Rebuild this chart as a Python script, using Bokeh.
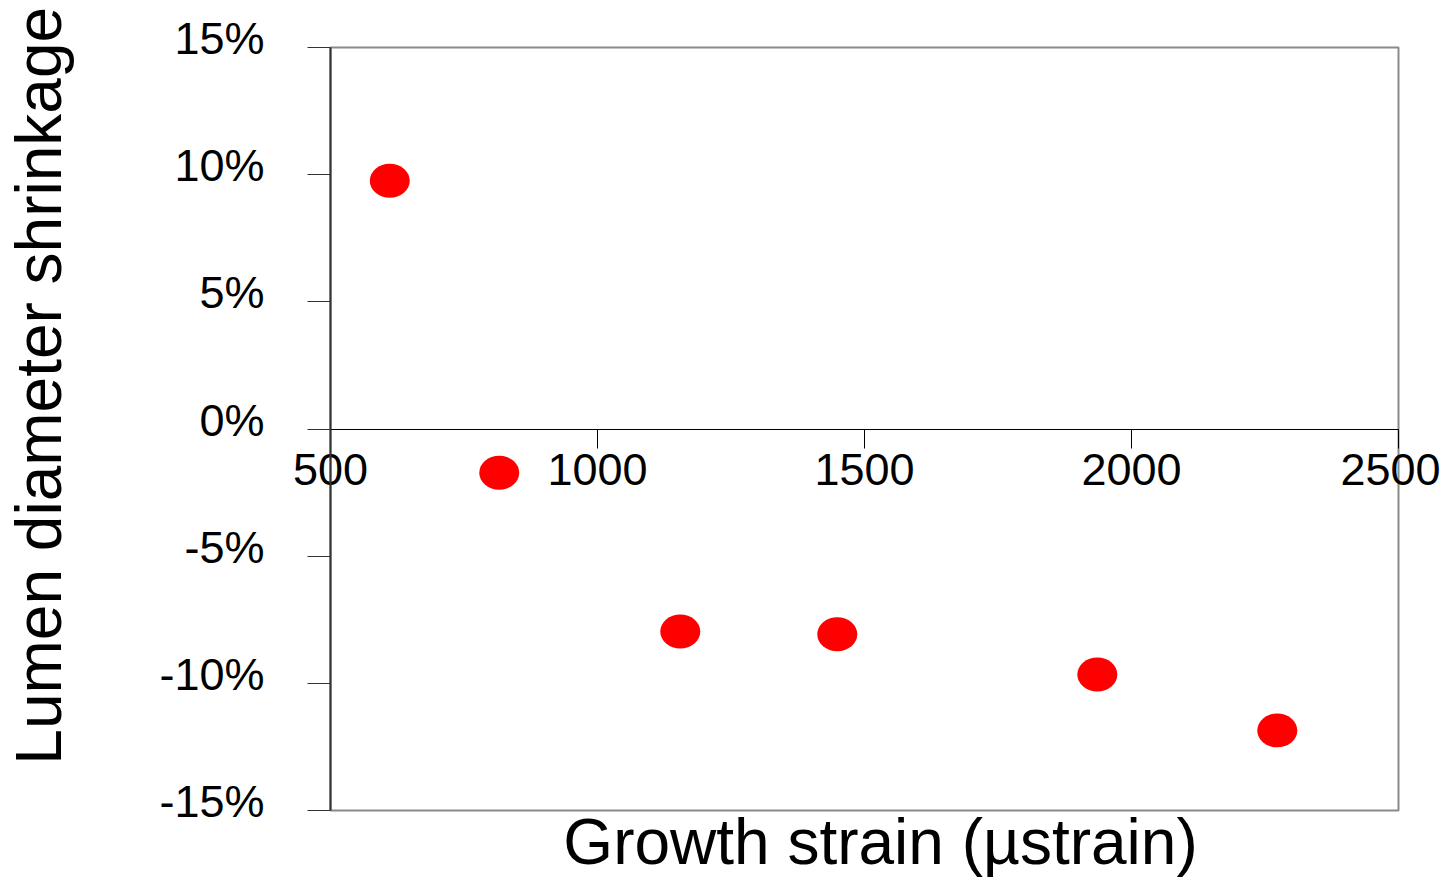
import math
from bokeh.plotting import figure
from bokeh.models import (ColumnDataSource, FixedTicker, NumeralTickFormatter,
                          Range1d, Label, LinearAxis, BoxAnnotation)
from bokeh.embed import file_html
from bokeh.resources import INLINE

# ---- data ----
growth_strain = [611, 816, 1155, 1449, 1936, 2273]
shrinkage = [0.0976, -0.0172, -0.0796, -0.0807, -0.0965, -0.1185]
x_ticks = [500, 1000, 1500, 2000, 2500]
y_ticks = [-0.15, -0.10, -0.05, 0.0, 0.05, 0.10, 0.15]
x_title = "Growth strain (µstrain)"
y_title = "Lumen diameter shrinkage"

FONT = "Liberation Sans"
W, H = 1440, 878
# plot box in canvas pixels
BOX_L, BOX_R, BOX_T, BOX_B = 330, 1398, 47, 810
XMIN, XMAX = x_ticks[0], x_ticks[-1]
YMIN, YMAX = y_ticks[0], y_ticks[-1]
sx = (BOX_R - BOX_L) / (XMAX - XMIN)
sy = (BOX_B - BOX_T) / (YMAX - YMIN)
x0 = XMIN - BOX_L / sx
x1 = x0 + W / sx
y1 = YMAX + BOX_T / sy
y0 = y1 - H / sy

p = figure(width=W, height=H, output_backend="svg", toolbar_location=None,
           x_range=Range1d(x0, x1), y_range=Range1d(y0, y1),
           min_border=0, min_border_left=0, min_border_right=0,
           min_border_top=0, min_border_bottom=0)
p.grid.visible = False
p.background_fill_color = "white"
p.border_fill_color = "white"
p.outline_line_color = None

# plot box
p.add_layout(BoxAnnotation(left=XMIN, right=XMAX, bottom=YMIN, top=YMAX,
                           fill_alpha=0, line_color="#8a8a8a", line_alpha=1,
                           line_width=2, level="underlay"))

# x axis crossing at y = 0
xa = p.xaxis[0]
xa.fixed_location = 0
xa.bounds = (XMIN, XMAX)
xa.ticker = FixedTicker(ticks=x_ticks)
xa.axis_line_color = "black"
xa.axis_line_width = 1
xa.major_tick_in = 0
xa.major_tick_out = 19
xa.major_tick_line_color = "black"
xa.major_tick_line_width = 1
xa.minor_tick_line_color = None
xa.major_label_standoff = 6
xa.major_label_text_font = FONT
xa.major_label_text_font_size = "45px"
xa.major_label_text_color = "black"

# y axis (line + ticks) at x = 500
ya = p.yaxis[0]
ya.fixed_location = XMIN
ya.bounds = (YMIN, YMAX)
ya.ticker = FixedTicker(ticks=y_ticks)
ya.major_label_overrides = {t: "" for t in y_ticks}
ya.axis_line_color = "#333333"
ya.axis_line_width = 2
ya.major_tick_in = 0
ya.major_tick_out = 23
ya.major_tick_line_color = "#333333"
ya.major_tick_line_width = 1
ya.minor_tick_line_color = None

# y tick labels, sitting slightly above their ticks as in the reference
shift = 9 / sy
p.extra_y_ranges = {"lab": Range1d(y0 - shift, y1 - shift)}
yl = LinearAxis(y_range_name="lab", fixed_location=XMIN,
                ticker=FixedTicker(ticks=y_ticks),
                formatter=NumeralTickFormatter(format="0%"))
yl.axis_line_color = None
yl.major_tick_line_color = None
yl.minor_tick_line_color = None
yl.major_tick_in = 0
yl.major_tick_out = 23
yl.major_label_standoff = 43
yl.major_label_text_font = FONT
yl.major_label_text_font_size = "45px"
yl.major_label_text_color = "black"
p.add_layout(yl, "left")

src = ColumnDataSource(dict(x=growth_strain, y=shrinkage))
p.ellipse(x="x", y="y", width=40, height=34, width_units="screen",
          height_units="screen", source=src, fill_color="#ff0000",
          line_color=None)

p.add_layout(Label(x=1530, y=-0.1704 + 20 / sy, text=x_title,
                   text_align="center", text_baseline="alphabetic",
                   text_font=FONT, text_font_size="64px", text_color="black"))
p.add_layout(Label(x=-25 / sx, y=0.017, text=y_title, angle=math.pi / 2,
                   text_align="center", text_baseline="alphabetic",
                   text_font=FONT, text_font_size="64px", text_color="black"))

open("out.html", "w").write(file_html(p, INLINE))
